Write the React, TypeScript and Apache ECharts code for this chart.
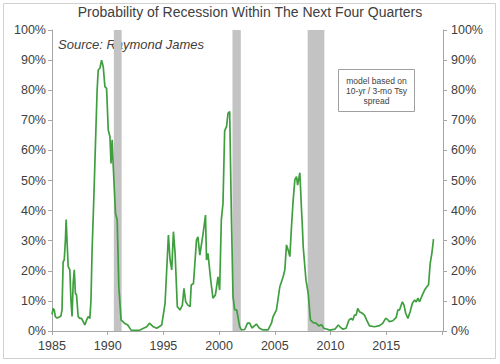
import React, { useEffect, useRef } from "react";
import * as echarts from "echarts";

const title = "Probability of Recession Within The Next Four Quarters";
const sourceNote = "Source: Raymond James";
const noteLines = ["model based on", "10-yr / 3-mo Tsy", "spread"];

const years = [
  1985.0, 1985.1, 1985.2, 1985.3, 1985.45, 1985.65, 1985.8, 1985.9, 1986.0, 1986.1,
  1986.2, 1986.27, 1986.35, 1986.45, 1986.6, 1986.7, 1986.8, 1986.9, 1987.0, 1987.1,
  1987.2, 1987.35, 1987.5, 1987.65, 1987.8, 1987.95, 1988.1, 1988.25, 1988.4, 1988.5,
  1988.6, 1988.75, 1988.9, 1989.05, 1989.15, 1989.3, 1989.45, 1989.6, 1989.75, 1989.9,
  1990.05, 1990.2, 1990.3, 1990.4, 1990.5, 1990.7, 1990.85, 1991.0, 1991.2, 1991.5,
  1991.8, 1992.1, 1992.5, 1992.9, 1993.5, 1993.75, 1994.1, 1994.4, 1994.85, 1995.15,
  1995.45, 1995.6, 1995.75, 1995.9, 1996.05, 1996.25, 1996.5, 1996.7, 1996.85, 1997.0,
  1997.2, 1997.4, 1997.5, 1997.7, 1997.97, 1998.1, 1998.27, 1998.57, 1998.78, 1998.87,
  1999.0, 1999.25, 1999.45, 1999.67, 1999.9, 2000.05, 2000.2, 2000.35, 2000.5, 2000.67,
  2000.8, 2000.95, 2001.1, 2001.25, 2001.4, 2001.58, 2001.85, 2002.0, 2002.3, 2002.55,
  2002.75, 2002.95, 2003.35, 2003.6, 2003.9, 2004.4, 2004.7, 2004.85, 2005.15, 2005.45,
  2005.75, 2005.9, 2006.05, 2006.2, 2006.35, 2006.5, 2006.65, 2006.8, 2006.95, 2007.05,
  2007.25, 2007.4, 2007.47, 2007.55, 2007.8, 2008.0, 2008.2, 2008.45, 2008.7, 2008.95,
  2009.2, 2009.4, 2009.95, 2010.4, 2010.7, 2010.85, 2011.1, 2011.4, 2011.65, 2011.85,
  2012.0, 2012.15, 2012.3, 2012.45, 2012.6, 2012.85, 2013.05, 2013.25, 2013.5, 2013.95,
  2014.4, 2014.7, 2014.95, 2015.1, 2015.3, 2015.6, 2015.9, 2016.05, 2016.2, 2016.45,
  2016.6, 2016.75, 2016.95, 2017.15, 2017.35, 2017.55, 2017.7, 2017.85, 2018.0, 2018.25,
  2018.45, 2018.65, 2018.8, 2018.95, 2019.1, 2019.25,
];

const probability = [
  5.5, 7.5, 7.0, 4.8, 4.3, 4.6, 5.0, 7.0, 23, 23.6,
  30, 37, 30, 21.5, 20.3, 10.3, 4.8, 15.8, 20.3, 12.5,
  12, 4.8, 4.2, 4.2, 3.1, 2.0, 3.6, 4.8, 4.2, 10.3,
  27, 43.5, 62, 80, 86.7, 87.3, 90, 87.8, 81.2, 80.6,
  66.8, 64.6, 55.7, 63.5, 54.6, 39.1, 36.9, 14.7, 3.7, 2.6,
  2.0, 0.3, 0.2, 0.3, 1.4, 2.6, 1.4, 0.9, 2.0, 9.2,
  31.9, 23.6, 20.3, 33, 25.8, 8.1, 7.0, 8.6, 14.2, 9.7,
  8.6, 8.1, 15.3, 15.8, 30.2, 31.3, 25.2, 32.5, 38.5, 23.6,
  25.8, 16.9, 10.9, 12.0, 18, 13.6, 36.9, 42.4, 66.6, 67.9,
  72.3, 72.9, 39.1, 11.4, 7.0, 7.0, 1.4, 0.4, 0.5, 2.6,
  2.6, 1.0, 2.3, 1.0, 0.4, 0.4, 2.6, 4.8, 7.0, 14.7,
  18, 20.3, 28.6, 26.9, 24.7, 34.7, 43.5, 50.2, 51.3, 48.5,
  52.6, 40.2, 35.2, 28, 16.9, 12.5, 3.6, 2.8, 2.6, 1.7,
  2.1, 0.9, 0.3, 0.6, 2.0, 1.4, 0.6, 0.9, 3.6, 4.2,
  3.6, 5.3, 5.3, 7.5, 6.4, 5.9, 5.3, 3.6, 1.7, 1.4,
  1.8, 2.6, 4.2, 3.9, 3.1, 3.4, 4.5, 7.0, 7.0, 9.7,
  8.6, 5.9, 4.2, 6.4, 9.2, 10.3, 9.7, 10.9, 9.7, 12,
  13.6, 14.7, 15.3, 22.5, 25.8, 30.5,
];

const recessionStart = [1990.55, 2001.2, 2007.95];
const recessionEnd = [1991.25, 2001.95, 2009.45];

const FONT = "Liberation Sans, Arial, sans-serif";

export default function App() {
  const ref = useRef<HTMLDivElement>(null);
  useEffect(() => {
    if (!ref.current) return;
    const chart = echarts.init(ref.current, undefined, { renderer: "svg" });
    const lineData = years.map((y, i) => [y, probability[i]]);
    const areas = recessionStart.map((s, i) => [{ xAxis: s }, { xAxis: recessionEnd[i] }]);
    const yAxisCommon = {
      type: "value" as const,
      min: 0,
      max: 100,
      interval: 10,
      splitLine: { show: false },
      axisLine: { show: true, lineStyle: { color: "#a6a6a6", width: 1 } },
      axisTick: { show: true, length: 4, lineStyle: { color: "#a6a6a6" } },
      axisLabel: {
        formatter: "{value}%",
        color: "#404040",
        fontFamily: FONT,
        fontSize: 12.5,
      },
    };
    chart.setOption({
      animation: false,
      backgroundColor: "#ffffff",
      title: {
        text: title,
        left: "center",
        top: 0,
        textStyle: { fontFamily: FONT, fontSize: 14, fontWeight: "normal", color: "#404040" },
      },
      grid: { left: 52, right: 57, top: 30, bottom: 33, containLabel: false },
      xAxis: {
        type: "value",
        min: 1985,
        max: 2020.1,
        interval: 5,
        splitLine: { show: false },
        axisLine: { show: true, lineStyle: { color: "#a6a6a6", width: 1 } },
        axisTick: { show: true, length: 4, lineStyle: { color: "#a6a6a6" } },
        axisLabel: {
          color: "#404040",
          fontFamily: FONT,
          fontSize: 12.5,
          margin: 8,
          showMaxLabel: false,
          formatter: (v: number) =>
            Math.abs(v % 5) < 1e-6 && v < 2019 ? String(Math.round(v)) : "",
        },
      },
      yAxis: [
        { ...yAxisCommon, position: "left", axisLabel: { ...yAxisCommon.axisLabel, margin: 6 } },
        { ...yAxisCommon, position: "right", axisLabel: { ...yAxisCommon.axisLabel, margin: 8 } },
      ],
      series: [
        {
          type: "line",
          data: [],
          silent: true,
          markArea: {
            silent: true,
            itemStyle: { color: "#c3c3c3" },
            data: areas,
          },
        },
        {
          type: "line",
          data: lineData,
          showSymbol: false,
          symbol: "none",
          lineStyle: { color: "#3f9f3f", width: 1.7 },
          z: 5,
        },
      ],
      graphic: [
        {
          type: "rect",
          shape: { x: 3.5, y: 3.5, width: 492, height: 355 },
          style: { fill: "none", stroke: "#d0d0d0", lineWidth: 1 },
          silent: true,
        },
        {
          type: "text",
          x: 58,
          y: 44,
          style: {
            text: sourceNote,
            fontFamily: FONT,
            fontSize: 13,
            fontStyle: "italic",
            fill: "#404040",
            textVerticalAlign: "middle",
            verticalAlign: "middle",
          },
        },
        {
          type: "rect",
          shape: { x: 338.5, y: 69.5, width: 76, height: 42 },
          style: { fill: "#ffffff", stroke: "#a0a0a0", lineWidth: 1 },
        },
        ...noteLines.map((t, i) => ({
          type: "text",
          x: 376.5,
          y: 81 + i * 10,
          style: {
            text: t,
            fontFamily: FONT,
            fontSize: 8.5,
            fill: "#404040",
            align: "center",
            textAlign: "center",
            verticalAlign: "middle",
            textVerticalAlign: "middle",
          },
        })),
      ],
    });
    return () => chart.dispose();
  }, []);
  return (
    <div
      ref={ref}
      style={{ position: "fixed", left: 0, top: 0, width: 500, height: 364, background: "#fff" }}
    />
  );
}
